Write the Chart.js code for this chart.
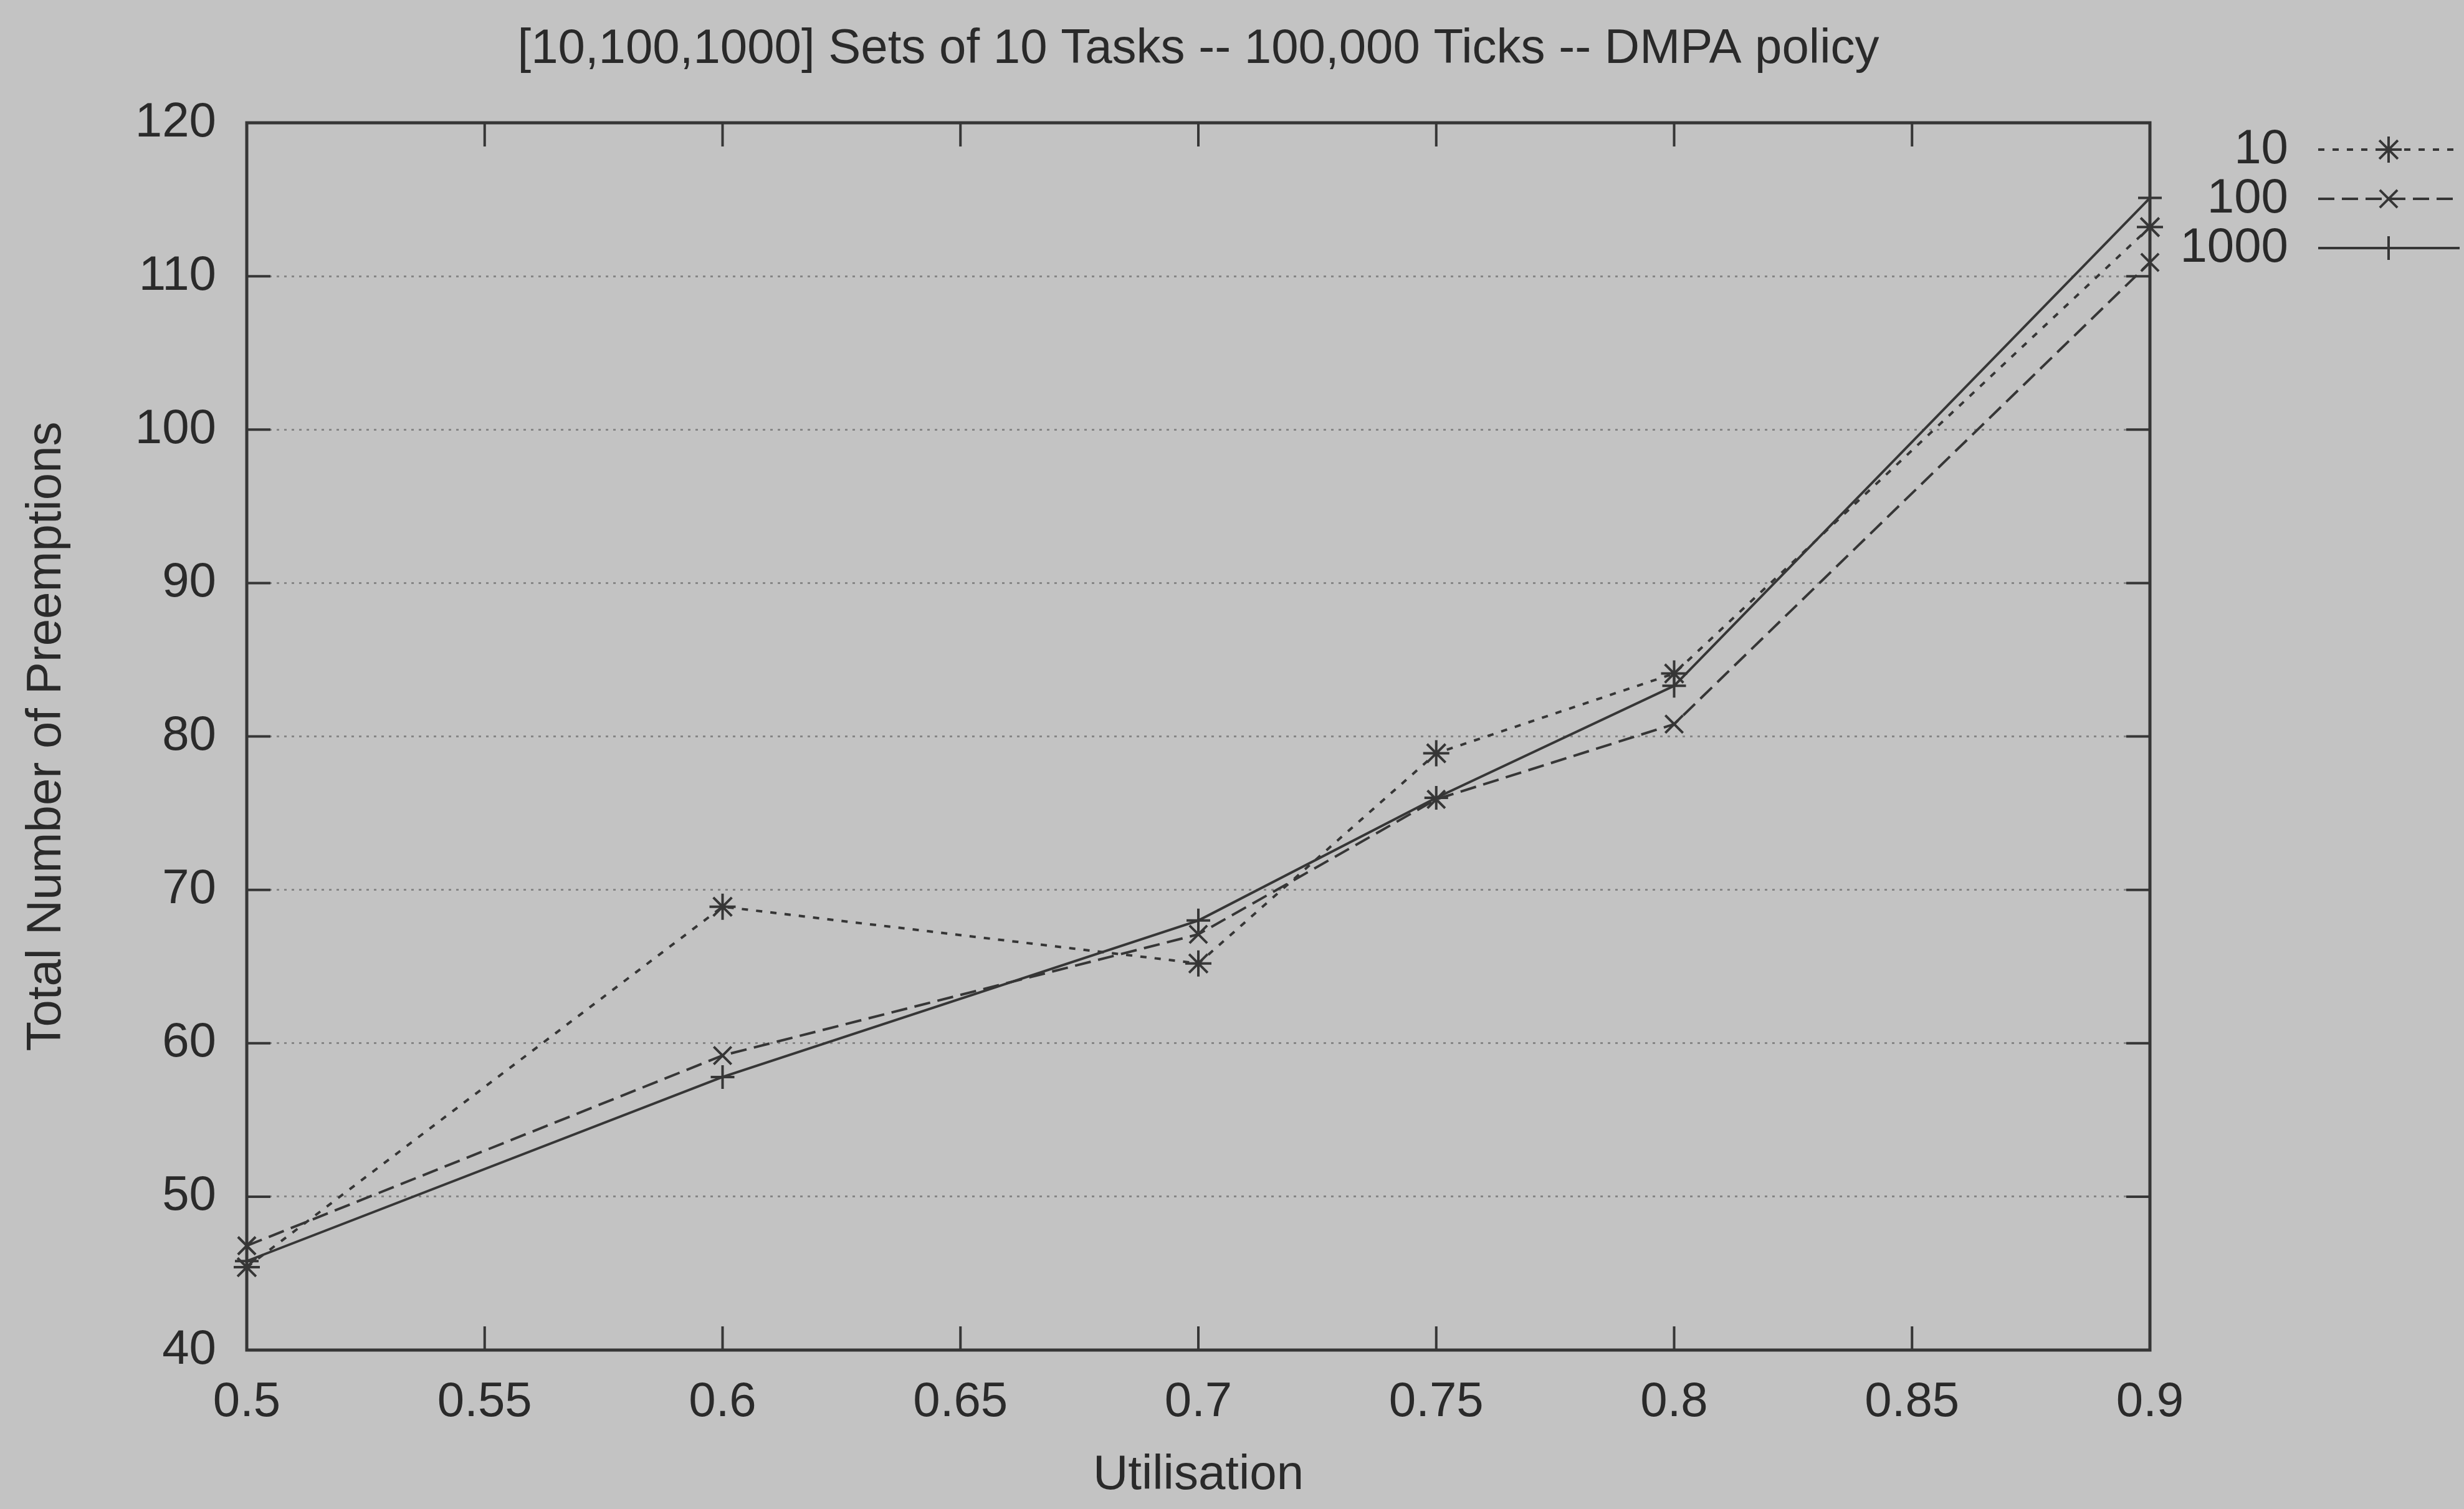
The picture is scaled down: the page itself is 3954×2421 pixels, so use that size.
<!DOCTYPE html>
<html>
<head>
<meta charset="utf-8">
<title>DMPA policy preemptions</title>
<script src="https://cdn.jsdelivr.net/npm/chart.js@4.4.1/dist/chart.umd.min.js"></script>
<style>
  html, body { margin: 0; padding: 0; background: #c3c3c3; }
  canvas { display: block; }
</style>
</head>
<body>
<canvas id="chart" width="3954" height="2421"></canvas>
<script>
// Utilisation levels that were simulated
const utilisation = [0.5, 0.6, 0.7, 0.75, 0.8, 0.9];

// Total number of preemptions for each number of task sets
const seriesLabels = ['10', '100', '1000'];
const preemptions10   = [45.4, 68.9, 65.2, 78.9, 84.1, 113.2];
const preemptions100  = [46.8, 59.2, 67.1, 75.9, 80.8, 110.9];
const preemptions1000 = [45.8, 57.8, 68.0, 76.0, 83.3, 115.1];

// Axis ticks
const xTickValues = [0.5, 0.55, 0.6, 0.65, 0.7, 0.75, 0.8, 0.85, 0.9];
const xTickLabels = ['0.5', '0.55', '0.6', '0.65', '0.7', '0.75', '0.8', '0.85', '0.9'];
const yTickValues = [40, 50, 60, 70, 80, 90, 100, 110, 120];
const yTickLabels = ['40', '50', '60', '70', '80', '90', '100', '110', '120'];

const chartTitle = '[10,100,1000] Sets of 10 Tasks -- 100,000 Ticks -- DMPA policy';
const xTitle = 'Utilisation';
const yTitle = 'Total Number of Preemptions';

const PAPER = '#c3c3c3';
const INK = '#2a2a2a';
const LINE = '#363636';
const FAMILY = '"Liberation Sans", Arial, Helvetica, sans-serif';
const FONT = { family: FAMILY, size: 78, weight: 'normal' };

function points(values) {
  return utilisation.map((u, i) => ({ x: u, y: values[i] }));
}

// Grey paper behind everything
const paper = {
  id: 'paper',
  beforeDraw(chart) {
    const { ctx, width, height } = chart;
    ctx.save();
    ctx.fillStyle = PAPER;
    ctx.fillRect(0, 0, width, height);
    ctx.restore();
  }
};

// Closed frame with inward tick marks on all four sides
const frame = {
  id: 'frame',
  beforeDatasetsDraw(chart) {
    const { ctx, chartArea: a, scales } = chart;
    const len = 38;
    ctx.save();
    ctx.strokeStyle = LINE;
    ctx.lineWidth = 4;
    ctx.setLineDash([]);
    ctx.beginPath();
    scales.x.ticks.forEach(t => {
      const px = scales.x.getPixelForValue(t.value);
      ctx.moveTo(px, a.bottom); ctx.lineTo(px, a.bottom - len);
      ctx.moveTo(px, a.top);    ctx.lineTo(px, a.top + len);
    });
    scales.y.ticks.forEach(t => {
      const py = scales.y.getPixelForValue(t.value);
      ctx.moveTo(a.left, py);  ctx.lineTo(a.left + len, py);
      ctx.moveTo(a.right, py); ctx.lineTo(a.right - len, py);
    });
    ctx.stroke();
    ctx.lineWidth = 5;
    ctx.strokeRect(a.left, a.top, a.right - a.left, a.bottom - a.top);
    ctx.restore();
  }
};

// Key to the right of the plot: label, then line sample with its marker
const key = {
  id: 'key',
  afterDraw(chart) {
    const { ctx, chartArea: a } = chart;
    ctx.save();
    chart.data.datasets.forEach((ds, i) => {
      const y = a.top + 43 + i * 79;
      ctx.fillStyle = INK;
      ctx.font = `${FONT.size}px ${FAMILY}`;
      ctx.textAlign = 'right';
      ctx.textBaseline = 'middle';
      ctx.fillText(ds.label, a.right + 222, y);

      ctx.strokeStyle = ds.borderColor;
      ctx.lineWidth = ds.borderWidth;
      ctx.setLineDash(ds.borderDash || []);
      ctx.beginPath();
      ctx.moveTo(a.right + 270, y);
      ctx.lineTo(a.right + 497, y);
      ctx.stroke();

      ctx.setLineDash([]);
      ctx.lineWidth = ds.pointBorderWidth;
      ctx.strokeStyle = ds.pointBorderColor;
      Chart.helpers.drawPoint(ctx, {
        pointStyle: ds.pointStyle,
        radius: ds.pointRadius,
        rotation: 0,
        borderWidth: ds.pointBorderWidth
      }, a.right + 383, y);
    });
    ctx.restore();
  }
};

function series(label, values, dash, style, radius) {
  return {
    label,
    data: points(values),
    borderColor: LINE,
    borderWidth: 4,
    borderDash: dash,
    pointStyle: style,
    pointRadius: radius,
    pointHoverRadius: radius,
    pointBorderWidth: 4,
    pointBorderColor: LINE,
    pointBackgroundColor: 'rgba(0,0,0,0)',
    fill: false,
    tension: 0,
    clip: false
  };
}

new Chart(document.getElementById('chart'), {
  type: 'line',
  data: {
    datasets: [
      series(seriesLabels[0], preemptions10, [10, 13], 'star', 21),
      series(seriesLabels[1], preemptions100, [26, 12], 'crossRot', 20),
      series(seriesLabels[2], preemptions1000, [], 'cross', 19)
    ]
  },
  options: {
    responsive: false,
    animation: false,
    devicePixelRatio: 1,
    layout: { padding: { top: 0, left: 0, bottom: 0, right: 504 } },
    plugins: {
      legend: { display: false },
      tooltip: { enabled: false },
      title: {
        display: true,
        fullSize: false,
        text: chartTitle,
        color: INK,
        font: FONT,
        padding: { top: 33, bottom: 70.4 }
      }
    },
    scales: {
      x: {
        type: 'linear',
        min: xTickValues[0],
        max: xTickValues[xTickValues.length - 1],
        afterBuildTicks: s => { s.ticks = xTickValues.map(v => ({ value: v })); },
        afterFit: s => { s.height = 255; },
        ticks: {
          autoSkip: false,
          maxRotation: 0,
          color: INK,
          font: FONT,
          padding: 38,
          callback: (v, i) => xTickLabels[i]
        },
        grid: { display: false, drawTicks: false },
        border: { display: false },
        title: { display: true, text: xTitle, color: INK, font: FONT, padding: { top: 0, bottom: 7 } }
      },
      y: {
        type: 'linear',
        min: yTickValues[0],
        max: yTickValues[yTickValues.length - 1],
        afterBuildTicks: s => { s.ticks = yTickValues.map(v => ({ value: v })); },
        afterFit: s => { s.width = 396; },
        ticks: {
          color: INK,
          font: FONT,
          padding: 49,
          callback: (v, i) => yTickLabels[i]
        },
        grid: { color: '#868686', lineWidth: 3, drawTicks: false },
        border: { display: false, dash: [4, 8] },
        title: { display: true, text: yTitle, color: INK, font: FONT, padding: { top: 29, bottom: 0 } }
      }
    }
  },
  plugins: [paper, frame, key]
});
</script>
</body>
</html>
